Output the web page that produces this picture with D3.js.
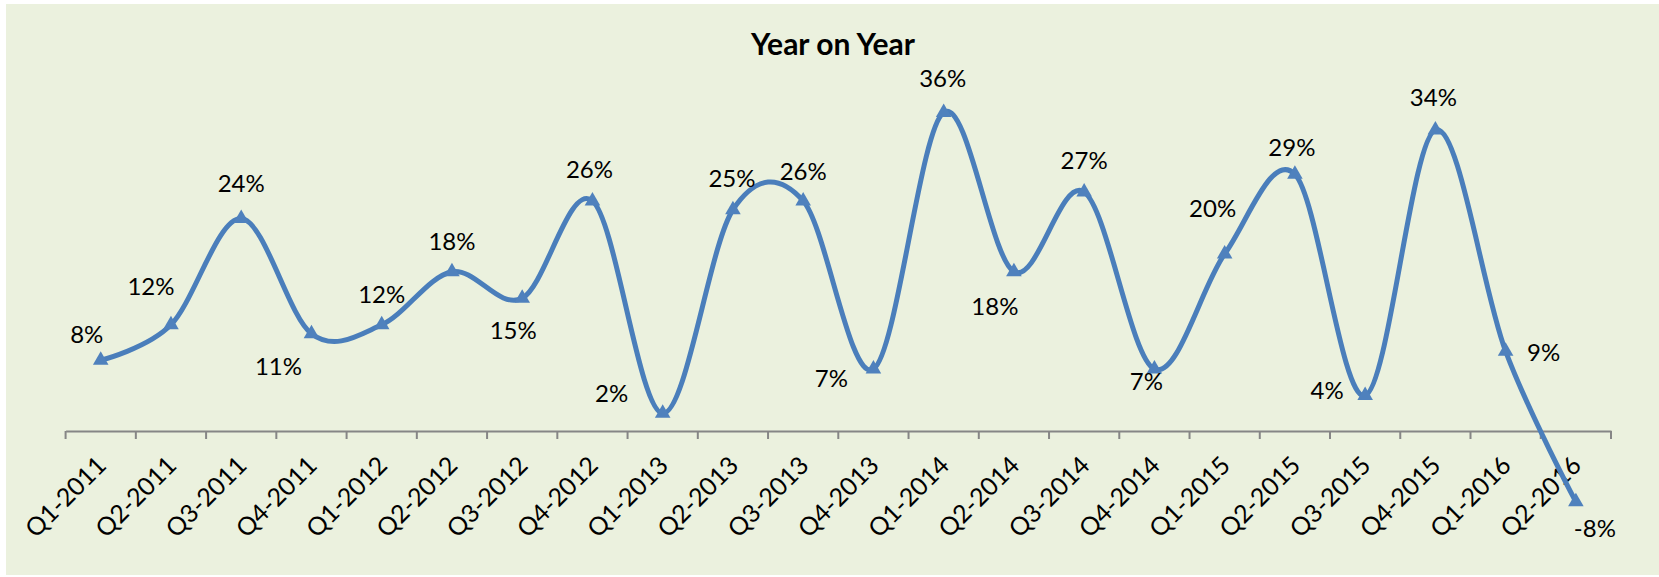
<!DOCTYPE html>
<html>
<head>
<meta charset="utf-8">
<script src="https://cdn.jsdelivr.net/npm/d3@7"></script>
<style>
  html, body { margin: 0; padding: 0; background: #ffffff; }
  svg { display: block; }
  text { font-family: Lato, "Open Sans", sans-serif; fill: #000; }
</style>
</head>
<body>
<svg id="chart" width="1659" height="577"></svg>
<script>
// Quarterly year-on-year growth
const quarters = [
  "Q1-2011", "Q2-2011", "Q3-2011", "Q4-2011",
  "Q1-2012", "Q2-2012", "Q3-2012", "Q4-2012",
  "Q1-2013", "Q2-2013", "Q3-2013", "Q4-2013",
  "Q1-2014", "Q2-2014", "Q3-2014", "Q4-2014",
  "Q1-2015", "Q2-2015", "Q3-2015", "Q4-2015",
  "Q1-2016", "Q2-2016"
];
const yoyGrowth = [
  0.08, 0.12, 0.24, 0.11,
  0.12, 0.18, 0.15, 0.26,
  0.02, 0.25, 0.26, 0.07,
  0.36, 0.18, 0.27, 0.07,
  0.20, 0.29, 0.04, 0.34,
  0.09, -0.08
];
const valueDomain = [-0.10, 0.40];

// Where each data label sits relative to its marker (dx, baseline dy)
const labelOffsets = [
  [-14, -17], [-20, -30], [0, -27], [-33, 41],
  [0, -22], [0, -22], [-9, 41], [-3, -23],
  [-51, -11], [-1, -23], [0, -21], [-42, 18],
  [-1, -25], [-19, 43], [0, -23], [-8, 21],
  [-12, -37], [-3, -18], [-38, 3], [-2, -24],
  [38, 10], [19, 35]
];

const svg = d3.select("#chart");
const W = 1659, H = 577;

// Chart area background
svg.append("rect")
  .attr("x", 6).attr("y", 4)
  .attr("width", W - 6).attr("height", H - 6)
  .attr("fill", "#EBF1DE");

const x = d3.scaleBand().domain(quarters).range([65.6, 1611]);
const y = d3.scaleLinear().domain(valueDomain).range([519.5, 77]);
const cx = d => x(d) + x.bandwidth() / 2;

// Title
svg.append("text")
  .attr("x", 833).attr("y", 55)
  .attr("text-anchor", "middle")
  .style("font-weight", 700)
  .style("font-size", "30px")
  .text("Year on Year");

// Category axis at zero
const axis = d3.axisBottom(x).tickSize(0).tickFormat("");
const axisG = svg.append("g")
  .attr("transform", `translate(0,${y(0)})`)
  .call(axis);
axisG.select(".domain").attr("stroke", "#868686").attr("stroke-width", 2);

// Tick marks between categories
const boundaries = quarters.map(q => x(q)).concat([x.range()[1]]);
svg.append("g").selectAll("line")
  .data(boundaries)
  .join("line")
  .attr("x1", d => d).attr("x2", d => d)
  .attr("y1", y(0)).attr("y2", y(0) + 8)
  .attr("stroke", "#868686").attr("stroke-width", 2);

// Rotated category labels
svg.append("g").selectAll("text")
  .data(quarters)
  .join("text")
  .attr("transform", d => `translate(${cx(d) + 7},${y(0) + 36}) rotate(-45)`)
  .attr("text-anchor", "end")
  .style("font-size", "25px")
  .text(d => d);

// Smoothed series line
const pts = quarters.map((q, i) => ({ q, v: yoyGrowth[i], i }));
const line = d3.line()
  .x(d => cx(d.q))
  .y(d => y(d.v))
  .curve(d3.curveCatmullRom.alpha(0));

svg.append("path")
  .datum(pts)
  .attr("d", line)
  .attr("fill", "none")
  .attr("stroke", "#4A7EBB")
  .attr("stroke-width", 5)
  .attr("stroke-linejoin", "round")
  .attr("stroke-linecap", "round");

// Triangle markers
const tri = d3.symbol().type(d3.symbolTriangle).size(105);
svg.append("g").selectAll("path")
  .data(pts)
  .join("path")
  .attr("d", tri)
  .attr("transform", d => `translate(${cx(d.q)},${y(d.v)})`)
  .attr("fill", "#4F81BD");

// Data labels
const pct = v => Math.round(v * 100) + "%";
svg.append("g").selectAll("text")
  .data(pts)
  .join("text")
  .attr("x", d => cx(d.q) + labelOffsets[d.i][0])
  .attr("y", d => y(d.v) + labelOffsets[d.i][1])
  .attr("text-anchor", "middle")
  .style("font-size", "24px")
  .text(d => pct(d.v));
</script>
</body>
</html>
